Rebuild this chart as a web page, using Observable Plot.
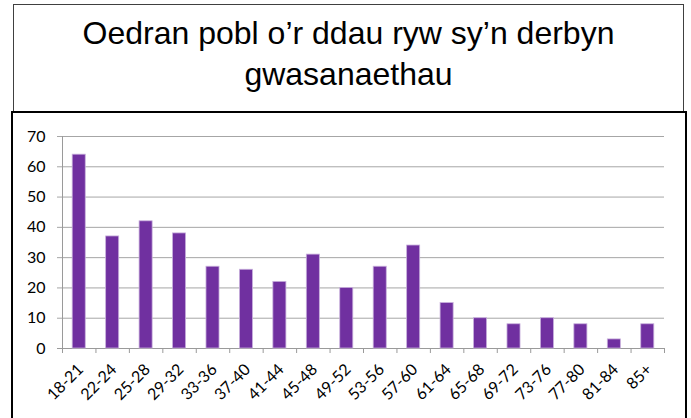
<!DOCTYPE html>
<html><head><meta charset="utf-8">
<script src="https://cdn.jsdelivr.net/npm/d3@7"></script>
<script src="https://cdn.jsdelivr.net/npm/@observablehq/plot@0.6"></script>
<style>
body{margin:0;background:#fff;overflow:hidden}
#wrap{position:relative;width:691px;height:418px;overflow:hidden;background:#fff}
#title{position:absolute;left:13px;top:4px;width:671px;height:109px;box-sizing:border-box;border:1px solid #404040;font-family:"Liberation Sans",Arial,sans-serif;font-size:32px;line-height:41px;text-align:center;padding-top:8px;color:#000}
#chart{position:absolute;left:11px;top:111px;width:676px;height:320px;box-sizing:border-box;border:2px solid #000;background:#fff}
#chart svg{position:absolute;left:0;top:0}
</style></head>
<body><div id="wrap"><div id="title">Oedran pobl o’r ddau ryw sy’n derbyn<br>gwasanaethau</div><div id="chart"></div></div>
<script>
const ageGroups = ["18-21","22-24","25-28","29-32","33-36","37-40","41-44","45-48","49-52","53-56","57-60","61-64","65-68","69-72","73-76","77-80","81-84","85+"];
const counts = [64,37,42,38,27,26,22,31,20,27,34,15,10,8,10,8,3,8];
const yTicks = [0,10,20,30,40,50,60,70];

const data = ageGroups.map((g,i)=>({group:g,count:counts[i]}));
const W=672,H=305,mL=49,mR=21,mT=23,mB=70;
const step=(W-mL-mR)/ageGroups.length;
const grid="#a6a6a6";
const plot = Plot.plot({
  width:W,height:H,marginLeft:mL,marginRight:mR,marginTop:mT,marginBottom:mB,
  style:{fontFamily:"Lato, sans-serif",fontSize:"16px",background:"transparent",color:"#000",overflow:"visible"},
  x:{domain:ageGroups,paddingInner:0.61,paddingOuter:0.305,round:false,label:null,axis:null},
  y:{domain:[0,70],label:null,axis:null},
  marks:[
    Plot.ruleY(yTicks.slice(1),{stroke:grid,strokeWidth:1,insetLeft:-5}),
    Plot.ruleY([0],{stroke:"#9a9a9a",insetLeft:-5}),
    Plot.ruleX([ageGroups[0]],{dx:-step/2,y1:0,y2:70,stroke:"#9a9a9a"}),
    Plot.ruleX(ageGroups,{dx:-step/2,y1:0,y2:0,insetBottom:-5,stroke:"#9a9a9a"}),
    Plot.ruleX([ageGroups[ageGroups.length-1]],{dx:step/2,y1:0,y2:0,insetBottom:-5,stroke:"#9a9a9a"}),
    Plot.barY(data,{x:"group",y:"count",fill:"#7030a0",stroke:"#c8b0dc",strokeWidth:0.8}),
    Plot.text(yTicks,{y:d=>d,text:d=>String(d),frameAnchor:"left",textAnchor:"end",dx:-17,fontSize:16,fill:"#000"}),
    Plot.text(ageGroups,{x:d=>d,text:d=>d,frameAnchor:"bottom",textAnchor:"end",rotate:-45,dx:5,dy:22,fontSize:16,fill:"#000"})
  ]
});
document.getElementById("chart").appendChild(plot);
</script>
</body></html>
